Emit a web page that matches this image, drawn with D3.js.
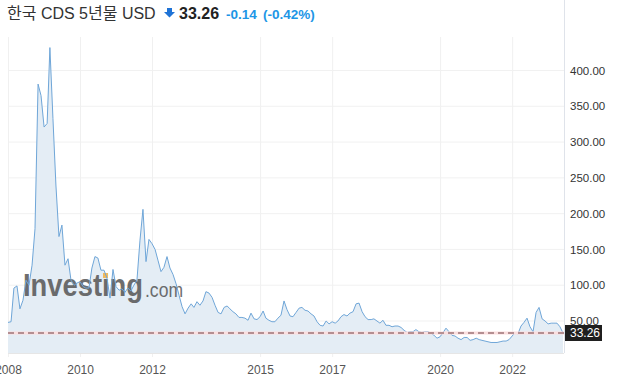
<!DOCTYPE html>
<html>
<head>
<meta charset="utf-8">
<script src="https://cdn.jsdelivr.net/npm/d3@7"></script>
<style>
body{margin:0;background:#fff;}
svg{display:block;font-family:"Liberation Sans",Arial,"Noto Sans CJK KR",sans-serif;}
</style>
</head>
<body>
<div id="chart"></div>
<script>
// monthly values, one row per year (2008-01 .. 2023-06)
let cds2008=[48,49,96,99,67,79,107,100,128,179,381,365];
let cds2009=[321,326,432,333,240,168,184,128,137,107,100,103];
let cds2010=[105,98,96,96,124,140,138,121,121,110,82,122];
let cds2011=[98,93,95,90,96,92,100,107,163,206,133,164];
let cds2012=[158,150,135,119,125,140,124,115,102,86,70,60];
let cds2013=[68,74,69,77,72,78,91,89,83,72,62,60];
let cds2014=[69,71,67,63,60,55,55,54,51,61,53,52];
let cds2015=[56,64,54,51,49,49,54,58,78,66,57,56];
let cds2016=[62,68,69,65,64,60,57,49,44,43,50,46];
let cds2017=[49,47,50,56,59,57,61,63,74,75,63,56];
let cds2018=[52,52,53,50,47,51,44,44,42,43,43,41];
let cds2019=[37,34,35,35,38,35,34,35,35,33,30,26];
let cds2020=[28,34,40,35,30,29,26,24,27,27,23,24];
let cds2021=[26,24,23,22,21,20,20,20,21,22,22,24];
let cds2022=[29,34,32,43,48,54,42,35,62,69,53,50];
let cds2023=[46,47,47,47,42,33.26];

let xTickYears=[2008,2010,2012,2015,2017,2020,2022];
let yTicks=[50,100,150,200,250,300,350,400];
let lastValue=33.26;
let title="한국 CDS 5년물 USD";
let change="-0.14";
let changePct="(-0.42%)";

let width=620;
let height=382;
let plotLeft=8, plotRight=564, plotTop=37, plotBottom=353;

let values=[].concat(cds2008,cds2009,cds2010,cds2011,cds2012,cds2013,cds2014,cds2015,
  cds2016,cds2017,cds2018,cds2019,cds2020,cds2021,cds2022,cds2023);
let months=d3.timeMonth.range(new Date(2008,0,1),new Date(2023,6,1));
let data=months.map(function(m,i){return {date:m,value:values[i]};});

let svg=d3.select("#chart").append("svg")
  .attr("width",width)
  .attr("height",height);

let xscale=d3.scaleTime()
  .domain([new Date(2008,0,1),new Date(2023,5,1)])
  .range([plotLeft,plotRight-1]);
let yscale=d3.scaleLinear()
  .domain([5.3,446.8])
  .range([plotBottom,plotTop]);

// grid
svg.append("g").selectAll("line").data(yTicks).enter().append("line")
  .attr("x1",plotLeft).attr("x2",plotRight)
  .attr("y1",function(d){return yscale(d);})
  .attr("y2",function(d){return yscale(d);})
  .attr("stroke","#f1f1f1").attr("stroke-width",1);

let xAxis=d3.axisBottom(xscale)
  .tickValues(xTickYears.map(function(y){return new Date(y,0,1);}))
  .tickFormat(d3.timeFormat("%Y"))
  .tickSizeInner(-(plotBottom-plotTop)-4)
  .tickSizeOuter(0)
  .tickPadding(8);
let gx=svg.append("g")
  .attr("transform","translate(0,"+(plotBottom+4)+")")
  .call(xAxis);
gx.select(".domain").remove();
gx.selectAll(".tick line").attr("stroke","#f0f0f0");
gx.selectAll(".tick text")
  .attr("fill","#555").attr("font-size","12px")
  .attr("font-family","Liberation Sans, Arial, sans-serif");

// area + line
let area=d3.area()
  .x(function(d){return xscale(d.date);})
  .y0(plotBottom)
  .y1(function(d){return yscale(d.value);});
let line=d3.line()
  .x(function(d){return xscale(d.date);})
  .y(function(d){return yscale(d.value);});

svg.append("path").datum(data)
  .attr("d",area)
  .attr("fill","#e4edf5");

// watermark
let wm=svg.append("g").attr("opacity",0.85);
wm.append("text").text("Investing")
  .attr("x",23).attr("y",296)
  .attr("font-size","32px").attr("font-weight","bold")
  .attr("textLength",120).attr("lengthAdjust","spacingAndGlyphs")
  .attr("fill","#555");
wm.append("text").text(".com")
  .attr("x",145).attr("y",297)
  .attr("font-size","20px")
  .attr("textLength",38).attr("lengthAdjust","spacingAndGlyphs")
  .attr("fill","#555");
wm.append("rect")
  .attr("x",103).attr("y",273).attr("width",5).attr("height",5)
  .attr("fill","#f5b041");

svg.append("path").datum(data)
  .attr("d",line)
  .attr("fill","none")
  .attr("stroke","#6fa6d8")
  .attr("stroke-width",1);

// bottom + right axis lines
svg.append("line")
  .attr("x1",plotLeft).attr("x2",plotRight)
  .attr("y1",plotBottom+0.5).attr("y2",plotBottom+0.5)
  .attr("stroke","#e6e6e6");
svg.append("line")
  .attr("x1",plotRight+0.5).attr("x2",plotRight+0.5)
  .attr("y1",0).attr("y2",plotBottom)
  .attr("stroke","#dfe3ea");

// y axis labels
let yAxis=d3.axisRight(yscale)
  .tickValues(yTicks)
  .tickFormat(d3.format(".2f"))
  .tickSize(0)
  .tickPadding(6);
let gy=svg.append("g")
  .attr("transform","translate("+plotRight+",0)")
  .call(yAxis);
gy.select(".domain").remove();
gy.selectAll(".tick text")
  .attr("fill","#333").attr("font-size","11.5px")
  .attr("font-family","Liberation Sans, Arial, sans-serif");

// last value line
let yl=yscale(lastValue);
svg.append("line")
  .attr("x1",plotLeft).attr("x2",plotRight)
  .attr("y1",yl).attr("y2",yl)
  .attr("stroke","#fbdede").attr("stroke-width",3);
svg.append("line")
  .attr("x1",plotLeft).attr("x2",plotRight)
  .attr("y1",yl).attr("y2",yl)
  .attr("stroke","#6e3f44").attr("stroke-width",1.1)
  .attr("stroke-dasharray","6,4");
svg.append("rect")
  .attr("x",plotRight+1).attr("y",yl-8).attr("width",37).attr("height",16)
  .attr("fill","#1f1f1f");
svg.append("text").text(d3.format(".2f")(lastValue))
  .attr("x",plotRight+6).attr("y",yl+4.5)
  .attr("fill","#fff").attr("font-size","12px");

// header
let head=svg.append("g");
head.append("text").text(title)
  .attr("x",7).attr("y",19)
  .attr("font-size","16px").attr("fill","#333");
head.append("path")
  .attr("d","M167,8 h5 v4 h3 l-5.5,5.5 l-5.5,-5.5 h3 z")
  .attr("fill","#1f73d6");
head.append("text").text(d3.format(".2f")(lastValue))
  .attr("x",179).attr("y",19)
  .attr("font-size","16px").attr("font-weight","bold").attr("fill","#222");
head.append("text").text(change)
  .attr("x",226).attr("y",18.5)
  .attr("font-size","13.5px").attr("font-weight","bold").attr("fill","#1d96e6");
head.append("text").text(changePct)
  .attr("x",263).attr("y",18.5)
  .attr("font-size","13.5px").attr("font-weight","bold").attr("fill","#1d96e6");
</script>
</body>
</html>
